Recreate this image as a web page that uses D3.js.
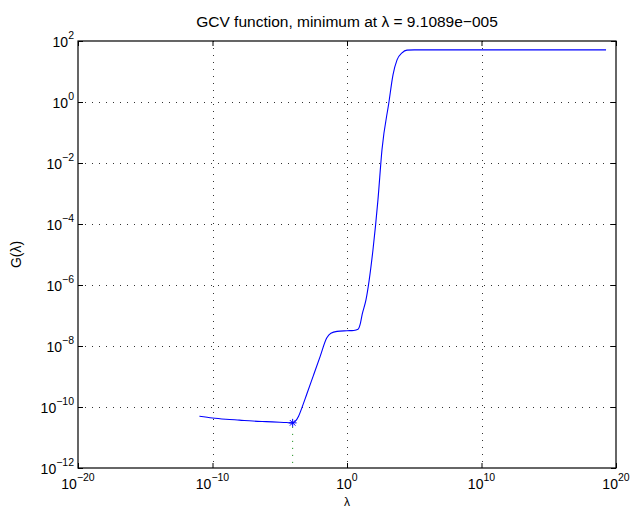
<!DOCTYPE html>
<html>
<head>
<meta charset="utf-8">
<script src="https://cdn.jsdelivr.net/npm/d3@7/dist/d3.min.js"></script>
<style>
  html, body { margin: 0; padding: 0; background: #fff; }
  svg { display: block; }
  text { font-family: "Liberation Sans", Arial, Helvetica, sans-serif; fill: #000; }
</style>
</head>
<body>
<svg id="chart" width="630" height="509"></svg>
<script>
// ---- data ----
const lambdaValues = [1.07e-11, 1e-10, 1e-9, 1e-8, 1e-7, 1e-6, 1e-5, 3.16e-5, 9.1089e-5, 1.41e-4,
  2.51e-4, 4.47e-4, 1e-3, 3.16e-3, 1e-2, 3.09e-2, 6.31e-2, 0.182, 1, 3.16,
  6.61, 10, 13.2, 25.7, 85.1, 200, 398, 1318, 2630, 5250,
  12300, 28840, 1e5, 1e10, 1e15, 1.82e19];
const gcvValues = [5.01e-11, 4.37e-11, 3.98e-11, 3.72e-11, 3.47e-11, 3.31e-11, 3.16e-11, 3.09e-11, 3.02e-11, 3.39e-11,
  5.01e-11, 9.55e-11, 2.57e-10, 1.07e-9, 4.47e-9, 1.82e-8, 2.63e-8, 3.02e-8, 3.16e-8, 3.24e-8,
  3.55e-8, 5.62e-8, 1.05e-7, 3.24e-7, 1.41e-5, 6.17e-4, 2.69e-2, 1, 7.76, 24.0,
  40.7, 50.1, 51.3, 51.3, 51.3, 51.3];
const minLambda = [9.1089e-5];
const minG = [3.02e-11];
const xTickExps = [-20, -10, 0, 10, 20];
const yTickExps = [-12, -10, -8, -6, -4, -2, 0, 2];
const titleText = "GCV function, minimum at \u03bb = 9.1089e\u2212005";
const xLabelText = "\u03bb";
const yLabelText = "G(\u03bb)";

// ---- layout ----
const L = 78, R = 616, T = 41, B = 468;
const svg = d3.select("#chart");

const x = d3.scaleLog().domain([1e-20, 1e20]).range([L, R]);
const y = d3.scaleLog().domain([1e-12, 1e2]).range([B, T]);

const xTicks = xTickExps.map(e => Math.pow(10, e));
const yTicks = yTickExps.map(e => Math.pow(10, e));

// grid
const grid = svg.append("g").attr("stroke", "#333").attr("stroke-width", 1)
  .attr("stroke-dasharray", "1,6").attr("shape-rendering", "crispEdges");
grid.selectAll("line.gx").data(xTicks.slice(1, -1)).join("line")
  .attr("x1", d => Math.round(x(d)) + 0.5).attr("x2", d => Math.round(x(d)) + 0.5)
  .attr("y1", T).attr("y2", B);
grid.selectAll("line.gy").data(yTicks.slice(1, -1)).join("line")
  .attr("y1", d => Math.round(y(d)) + 0.5).attr("y2", d => Math.round(y(d)) + 0.5)
  .attr("x1", L).attr("x2", R);

// axes with inward ticks (MATLAB style) using d3 axes
const fmtNone = () => "";
svg.append("g").attr("transform", `translate(0,${B})`)
  .call(d3.axisBottom(x).tickValues(xTicks).tickSizeInner(-5).tickSizeOuter(0).tickFormat(fmtNone))
  .call(g => g.select(".domain").remove());
svg.append("g").attr("transform", `translate(0,${T})`)
  .call(d3.axisTop(x).tickValues(xTicks).tickSizeInner(-5).tickSizeOuter(0).tickFormat(fmtNone))
  .call(g => g.select(".domain").remove());
svg.append("g").attr("transform", `translate(${L},0)`)
  .call(d3.axisLeft(y).tickValues(yTicks).tickSizeInner(-5).tickSizeOuter(0).tickFormat(fmtNone))
  .call(g => g.select(".domain").remove());
svg.append("g").attr("transform", `translate(${R},0)`)
  .call(d3.axisRight(y).tickValues(yTicks).tickSizeInner(-5).tickSizeOuter(0).tickFormat(fmtNone))
  .call(g => g.select(".domain").remove());

// box
svg.append("rect").attr("x", L).attr("y", T).attr("width", R - L).attr("height", B - T)
  .attr("fill", "none").attr("stroke", "#000").attr("stroke-width", 1.2);

// x tick labels
const xl = svg.append("g");
xTickExps.forEach((e, i) => {
  const t = xl.append("text").attr("x", x(xTicks[i])).attr("y", B + 21)
    .attr("text-anchor", "middle").style("font-size", "14px");
  t.append("tspan").text("10");
  t.append("tspan").attr("dy", -8).style("font-size", "10.5px").text(e < 0 ? "\u2212" + (-e) : String(e));
});

// y tick labels
const yl = svg.append("g");
yTickExps.forEach((e, i) => {
  const t = yl.append("text").attr("x", L - 4).attr("y", y(yTicks[i]) + 6)
    .attr("text-anchor", "end").style("font-size", "14px");
  t.append("tspan").text("10");
  t.append("tspan").attr("dy", -8).style("font-size", "10.5px").text(e < 0 ? "\u2212" + (-e) : String(e));
});

// minimum marker vertical line (green dotted)
svg.append("line")
  .attr("x1", x(minLambda[0])).attr("x2", x(minLambda[0]))
  .attr("y1", y(minG[0]) + 4).attr("y2", B)
  .attr("stroke", "#008000").attr("stroke-width", 1).attr("stroke-dasharray", "1,6");

// curve
const pts = lambdaValues.map((l, i) => [l, gcvValues[i]]);
svg.append("path").datum(pts)
  .attr("fill", "none").attr("stroke", "#0000ff").attr("stroke-width", 1.1)
  .attr("d", d3.line().x(d => x(d[0])).y(d => y(d[1])).curve(d3.curveMonotoneX));

// asterisk marker
const mx = x(minLambda[0]), my = y(minG[0]), s = 4;
const star = svg.append("g").attr("stroke", "#0000ff").attr("stroke-width", 1);
star.append("line").attr("x1", mx - s).attr("x2", mx + s).attr("y1", my).attr("y2", my);
star.append("line").attr("x1", mx).attr("x2", mx).attr("y1", my - s).attr("y2", my + s);
star.append("line").attr("x1", mx - s * 0.7).attr("x2", mx + s * 0.7).attr("y1", my - s * 0.7).attr("y2", my + s * 0.7);
star.append("line").attr("x1", mx - s * 0.7).attr("x2", mx + s * 0.7).attr("y1", my + s * 0.7).attr("y2", my - s * 0.7);

// title and labels
svg.append("text").attr("x", (L + R) / 2).attr("y", 27).attr("text-anchor", "middle")
  .style("font-size", "15.5px").text(titleText);
svg.append("text").attr("x", (L + R) / 2).attr("y", 506).attr("text-anchor", "middle")
  .style("font-size", "12px").text(xLabelText);
svg.append("text").attr("transform", `translate(21,${(T + B) / 2}) rotate(-90)`)
  .attr("text-anchor", "middle").style("font-size", "14px").text(yLabelText);
</script>
</body>
</html>
